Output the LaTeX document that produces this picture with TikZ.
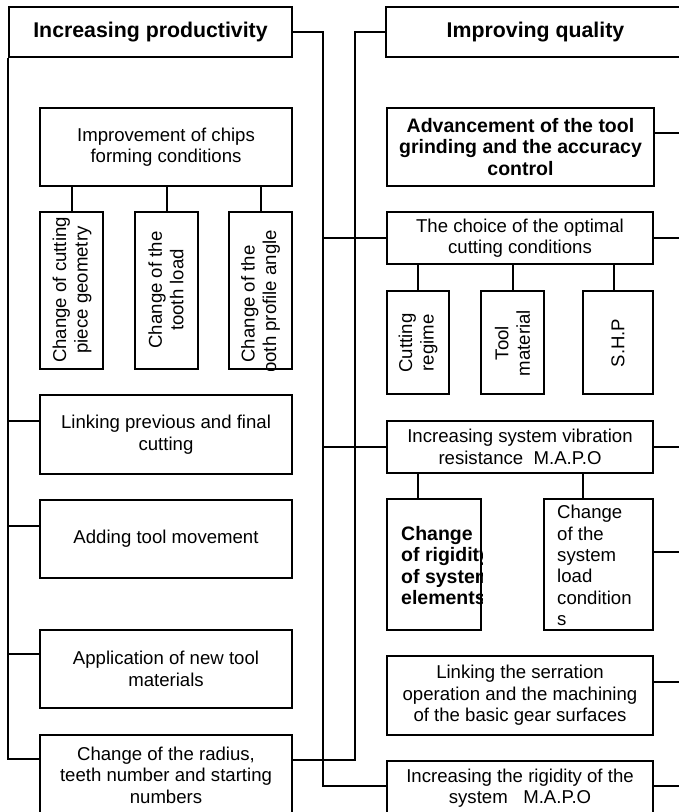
\documentclass[tikz,border=0pt]{standalone}
\usepackage{fontspec}
\setmainfont{Liberation Sans}
\begin{document}
\begin{tikzpicture}[x=1pt,y=-1pt,
  box/.style={draw, line width=2.2pt, inner sep=1pt, align=center,
    font=\fontsize{18.6}{21.4}\selectfont},
  head/.style={box, font=\bfseries\fontsize{21.3}{24}\selectfont},
  bbox/.style={box, font=\bfseries\fontsize{19.5}{21.5}\selectfont},
  sz/.style 2 args={minimum width=#1, minimum height=#2},
  link/.style={line width=2pt},
  txt/.style={inner sep=0pt, align=center, font=\fontsize{18.6}{21.4}\selectfont},
  vtxt/.style={txt, rotate=90},
]
\useasboundingbox (0,0) rectangle (679,812);
\fill[white] (0,0) rectangle (679,812);
\clip (0,0) rectangle (679,812);

% headers
\node[head, sz={283}{50}] (prod) at (150.5,32) {Increasing productivity};
\node[head, sz={299}{50}] (qual) at (535.5,32) {Improving quality};

% left column
\node[box, sz={252}{78}] (impr) at (166,147) {Improvement of chips\\forming conditions};
\node[box, sz={63}{157}] (g1) at (71.5,290.5) {};
\node[box, sz={63}{157}] (g2) at (166.5,290.5) {};
\node[box, sz={63}{157}] (g3) at (260.5,290.5) {};
\node[vtxt] at (72,290) {Change of cutting\\piece geometry};
\node[vtxt] at (166,290) {Change of the\\tooth load};
\begin{scope}
  \clip (g3.south west) rectangle (g3.north east);
  \node[vtxt] at (260.5,304) {Change of the\\tooth profile angle};
\end{scope}
\node[box, sz={252}{79}] (lnk) at (166,434.5) {Linking previous and final\\cutting};
\node[box, sz={252}{78}] (add) at (166,539) {Adding tool movement};
\node[box, sz={252}{78}] (app) at (166,669) {Application of new tool\\materials};
\node[box, sz={252}{80}] (rad) at (166,775) {Change of the radius,\\teeth number and starting\\numbers};

% right column
\node[bbox, sz={267}{78}] (adv) at (520.5,147) {Advancement of the tool\\grinding and the accuracy\\control};
\node[box, sz={266}{52}] (cho) at (520,238) {The choice of the optimal\\cutting conditions};
\node[box, sz={62}{103}] (c1) at (418,342.5) {};
\node[box, sz={63}{103}] (c2) at (512.5,342.5) {};
\node[box, sz={70}{103}] (c3) at (618,342.5) {};
\node[vtxt] at (418,343) {Cutting\\regime};
\node[vtxt] at (512.5,343) {Tool\\material};
\node[vtxt] at (618,343) {S.H.P};
\node[box, sz={266}{52}] (vib) at (520,447) {Increasing system vibration\\resistance\ \ M.A.P.O};
\node[box, sz={94}{131}] (v1) at (434,564.5) {};
\node[box, sz={109}{131}] (v2) at (598.5,564.5) {};
\begin{scope}
  \clip (v1.south west) rectangle (v1.north east);
  \node[txt, align=left, anchor=west, font=\bfseries\fontsize{19.5}{21.4}\selectfont]
    at (401,565.5) {Change\\of rigidity\\of system\\elements};
\end{scope}
\node[txt, align=left, anchor=west] at (557,565.5) {Change\\of the\\system\\load\\condition\\s};
\node[box, sz={266}{79}] (ser) at (520,695.5) {Linking the serration\\operation and the machining\\of the basic gear surfaces};
\node[box, sz={266}{54}] (rig) at (520,788) {Increasing the rigidity of the\\system\ \ \ M.A.P.O};

% spine positions and attachment points
\coordinate (spR) at (323,0);
\coordinate (spQ) at (355,0);
\coordinate (edge) at (690,0);
\coordinate (s1) at (418,0);
\coordinate (s2) at (583,0);
\coordinate (s3) at (614,0);
\coordinate (lnkL) at ([yshift=13.5pt]lnk.west);
\coordinate (addL) at ([yshift=13pt]add.west);
\coordinate (appL) at ([yshift=15pt]app.west);
\coordinate (radL) at ([yshift=16pt]rad.west);
\coordinate (radR) at ([yshift=15pt]rad.east);
\coordinate (rigL) at ([yshift=2pt]rig.west);
\coordinate (rigR) at ([yshift=2pt]rig.east);
\coordinate (advR) at ([yshift=14pt]adv.east);
\coordinate (v2R) at ([yshift=12.5pt]v2.east);
\coordinate (serR) at ([yshift=13.5pt]ser.east);

% left spine and its branches
\draw[link] (prod.south west) |- (radL);
\draw[link] (lnkL -| prod.west) -- (lnkL);
\draw[link] (addL -| prod.west) -- (addL);
\draw[link] (appL -| prod.west) -- (appL);

% stems under the chip-forming box
\draw[link] (impr.south -| g1.north) -- (g1.north);
\draw[link] (impr.south -| g2.north) -- (g2.north);
\draw[link] (impr.south -| g3.north) -- (g3.north);

% productivity spine to the right column
\draw[link] (prod.east) -| (rigL -| spR) -- (rigL);
\draw[link] (cho.west -| spR) -- (cho.west);
\draw[link] (vib.west -| spR) -- (vib.west);

% quality spine
\draw[link] (qual.west) -| (radR -| spQ) -- (radR);

% stems in the right column
\draw[link] (cho.south -| s1) -- (c1.north -| s1);
\draw[link] (cho.south -| c2.north) -- (c2.north);
\draw[link] (cho.south -| s3) -- (c3.north -| s3);
\draw[link] (vib.south -| s1) -- (v1.north -| s1);
\draw[link] (vib.south -| s2) -- (v2.north -| s2);

% outgoing links at the right edge
\draw[link] (advR) -- (advR -| edge);
\draw[link] (cho.east) -- (cho.east -| edge);
\draw[link] (vib.east) -- (vib.east -| edge);
\draw[link] (v2R) -- (v2R -| edge);
\draw[link] (serR) -- (serR -| edge);
\draw[link] (rigR) -- (rigR -| edge);
\end{tikzpicture}
\end{document}
